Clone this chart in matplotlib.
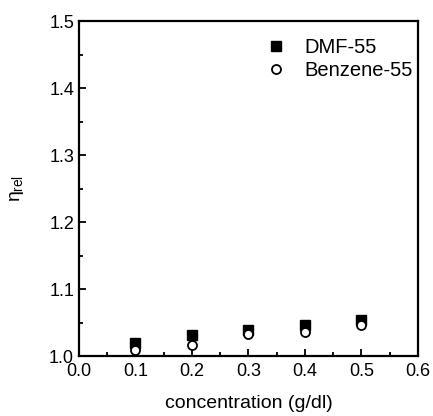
import matplotlib.pyplot as plt
from matplotlib.ticker import MultipleLocator

plt.rcParams['font.family'] = ['Liberation Sans', 'DejaVu Sans']
plt.rcParams['mathtext.fontset'] = 'custom'
plt.rcParams['mathtext.rm'] = 'Liberation Sans'
plt.rcParams['mathtext.it'] = 'Liberation Sans'

conc = [0.1, 0.2, 0.3, 0.4, 0.5]
dmf = [1.019, 1.031, 1.039, 1.046, 1.054]
benzene = [1.009, 1.016, 1.033, 1.036, 1.046]

fig = plt.figure(figsize=(4.33, 4.16), dpi=100)
ax = fig.add_axes([0.1824, 0.1442, 0.7829, 0.8053])

ax.plot(conc, dmf, 's', color='black', ms=6.5, label='DMF-55')
ax.plot(conc, benzene, 'o', mfc='white', mec='black', mew=1.3, ms=6.5,
        label='Benzene-55')

ax.set_xlim(0.0, 0.6)
ax.set_ylim(1.0, 1.5)
ax.xaxis.set_major_locator(MultipleLocator(0.1))
ax.xaxis.set_minor_locator(MultipleLocator(0.05))
ax.yaxis.set_major_locator(MultipleLocator(0.1))
ax.yaxis.set_minor_locator(MultipleLocator(0.05))
ax.tick_params(which='both', direction='in', top=False, right=False,
               labelsize=13, width=1.3)
ax.tick_params(which='major', length=5)
ax.tick_params(which='minor', length=3)
ax.tick_params(axis='x', pad=5)
for s in ax.spines.values():
    s.set_linewidth(1.6)

ax.set_xlabel('concentration (g/dl)', fontsize=14, labelpad=11)
ax.set_ylabel(r'$\eta_{rel}$', fontsize=14, labelpad=17)

ax.legend(loc='upper right', bbox_to_anchor=(0.985, 0.95), frameon=False,
          fontsize=14.5, handletextpad=0.4, borderaxespad=0, borderpad=0,
          labelspacing=0.2)

fig.savefig('out.png', dpi=100)
